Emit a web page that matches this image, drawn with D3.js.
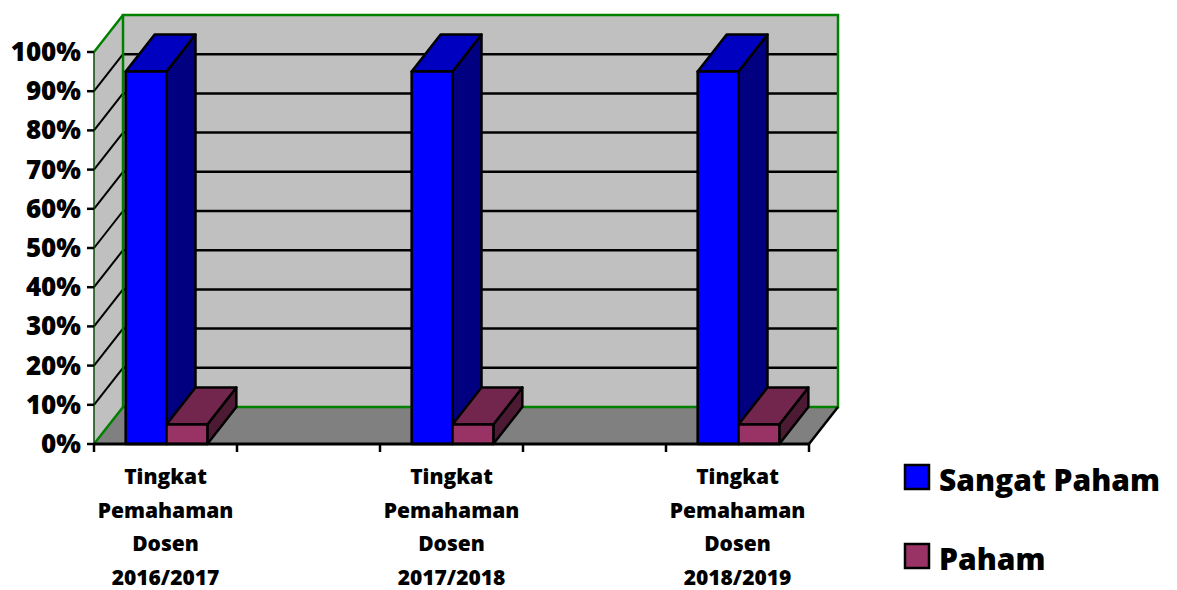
<!DOCTYPE html>
<html>
<head>
<meta charset="utf-8">
<script src="https://cdn.jsdelivr.net/npm/d3@7"></script>
<style>
  body { margin: 0; background: #fff; }
  text { font-family: "Open Sans", "DejaVu Sans", sans-serif; font-weight: 800; fill: #000; }
</style>
</head>
<body>
<div id="svg-container"></div>
<script>
let categories = ['Tingkat Pemahaman Dosen 2016/2017', '', 'Tingkat Pemahaman Dosen 2017/2018', '', 'Tingkat Pemahaman Dosen 2018/2019'];
let seriesNames = ['Sangat Paham', 'Paham'];
let sangatPaham = [0.95, null, 0.95, null, 0.95];
let paham = [0.05, null, 0.05, null, 0.05];
let yTickValues = [0, 0.1, 0.2, 0.3, 0.4, 0.5, 0.6, 0.7, 0.8, 0.9, 1];

let w = 1177;
let h = 590;
let pLeft = 94, pRight = 809, pBottom = 444, pTop = 52;
let dx = 29, dy = -37; // 3d depth offset

let front = ['#0000ff', '#993366'];
let topCol = ['#0000c0', '#73264d'];
let sideCol = ['#000080', '#4d1a33'];
let green = '#008000';

let svg = d3.select('#svg-container').
append('svg').
attr('width', w).
attr('height', h);

let x = d3.scaleBand().
domain(d3.range(categories.length)).
range([pLeft, pRight]).
padding(0);

let y = d3.scaleLinear().
domain([0, 1]).
range([pBottom, pTop]);

let line = d3.line();

// back wall
svg.append('rect').
attr('x', pLeft + dx).
attr('y', y(1) + dy).
attr('width', pRight - pLeft).
attr('height', y(0) - y(1)).
style('fill', '#c0c0c0');

// side wall
svg.append('path').
attr('d', line([[pLeft, y(1)], [pLeft + dx, y(1) + dy], [pLeft + dx, y(0) + dy], [pLeft, y(0)]]) + 'Z').
style('fill', '#c0c0c0');

// floor
svg.append('path').
attr('d', line([[pLeft, y(0)], [pRight, y(0)], [pRight + dx, y(0) + dy], [pLeft + dx, y(0) + dy]]) + 'Z').
style('fill', '#808080');

let inner = yTickValues.filter(t => t > 0 && t < 1);

// gridlines on back wall
svg.selectAll('.grid').
data(inner).
join('line').
attr('class', 'grid').
attr('x1', pLeft + dx).
attr('x2', pRight + dx).
attr('y1', d => y(d) + dy).
attr('y2', d => y(d) + dy).
style('stroke', '#000').
style('stroke-width', 2.5);

// gridlines on side wall
svg.selectAll('.sgrid').
data(inner).
join('line').
attr('class', 'sgrid').
attr('x1', pLeft).
attr('x2', pLeft + dx).
attr('y1', d => y(d)).
attr('y2', d => y(d) + dy).
style('stroke', '#000').
style('stroke-width', 2);

// green wall borders
svg.append('path').
attr('d', line([[pLeft + dx, y(0) + dy], [pLeft + dx, y(1) + dy], [pRight + dx, y(1) + dy], [pRight + dx, y(0) + dy], [pLeft + dx, y(0) + dy]])).
style('fill', 'none').
style('stroke', green).
style('stroke-width', 2.5);

svg.append('path').
attr('d', line([[pLeft, y(0)], [pLeft + dx, y(0) + dy]])).
style('stroke', green).
style('stroke-width', 2.5);

svg.append('path').
attr('d', line([[pLeft, y(1)], [pLeft + dx, y(1) + dy]])).
style('stroke', green).
style('stroke-width', 2.5);

svg.append('path').
attr('d', line([[pLeft, y(1)], [pLeft, y(0)]])).
style('stroke', '#0a4a0a').
style('stroke-width', 1.5);

// floor right edge
svg.append('path').
attr('d', line([[pRight, y(0)], [pRight + dx, y(0) + dy]])).
style('stroke', '#000').
style('stroke-width', 2.5);

// bars
let bw = x.bandwidth() / 3.5;
let bars = [];
categories.forEach((c, i) => {
  [sangatPaham[i], paham[i]].forEach((v, s) => {
    if (v == null) return;
    bars.push({ x0: x(i) + 0.75 * bw + s * bw + 1, v: v, s: s });
  });
});

let barG = svg.selectAll('.bar').
data(bars).
join('g').
attr('class', 'bar');

barG.append('path').
attr('d', d => line([[d.x0 + bw, y(d.v)], [d.x0 + bw + dx, y(d.v) + dy], [d.x0 + bw + dx, y(0) + dy], [d.x0 + bw, y(0)]]) + 'Z').
style('fill', d => sideCol[d.s]);

barG.append('path').
attr('d', d => line([[d.x0, y(d.v)], [d.x0 + bw, y(d.v)], [d.x0 + bw + dx, y(d.v) + dy], [d.x0 + dx, y(d.v) + dy]]) + 'Z').
style('fill', d => topCol[d.s]);

barG.append('rect').
attr('x', d => d.x0).
attr('y', d => y(d.v)).
attr('width', bw).
attr('height', d => y(0) - y(d.v)).
style('fill', d => front[d.s]);

barG.selectAll('path, rect').
style('stroke', '#000').
style('stroke-width', 2.5).
style('stroke-linejoin', 'round');

// x axis line and ticks
svg.append('line').
attr('x1', pLeft).
attr('x2', pRight).
attr('y1', y(0)).
attr('y2', y(0)).
style('stroke', '#000').
style('stroke-width', 3);

svg.selectAll('.xtick').
data(d3.range(categories.length + 1)).
join('line').
attr('class', 'xtick').
attr('x1', d => pLeft + d * x.step()).
attr('x2', d => pLeft + d * x.step()).
attr('y1', y(0)).
attr('y2', y(0) + 8).
style('stroke', '#000').
style('stroke-width', 2.5);

// y axis ticks and labels
svg.selectAll('.ytick').
data(yTickValues).
join('line').
attr('class', 'ytick').
attr('x1', pLeft - 7).
attr('x2', pLeft).
attr('y1', d => y(d)).
attr('y2', d => y(d)).
style('stroke', '#000').
style('stroke-width', 2.5);

svg.selectAll('.ylabel').
data(yTickValues).
join('text').
attr('class', 'ylabel').
attr('x', pLeft - 13).
attr('y', d => y(d) + 9).
attr('text-anchor', 'end').
style('font-size', '26px').
text(d => d3.format('.0%')(d));

// category labels
let labels = svg.selectAll('.xlabel').
data(categories.map((c, i) => ({ c: c, i: i })).filter(d => d.c !== '')).
join('text').
attr('class', 'xlabel').
attr('text-anchor', 'middle').
style('font-size', '21px');

labels.selectAll('tspan').
data(d => d.c.split(' ').map(t => ({ t: t, i: d.i }))).
join('tspan').
attr('x', d => x(d.i) + x.bandwidth() / 2).
attr('y', (d, k) => 484 + k * 33.7).
text(d => d.t);

// legend
let legend = svg.selectAll('.legend').
data(seriesNames).
join('g').
attr('class', 'legend').
attr('transform', (d, i) => 'translate(905,' + (465 + i * 79) + ')');

legend.append('rect').
attr('width', 24).
attr('height', 24).
style('fill', (d, i) => front[i]).
style('stroke', '#000').
style('stroke-width', 2.5);

legend.append('text').
attr('x', 34).
attr('y', 26).
style('font-size', '30px').
text(d => d);
</script>
</body>
</html>
